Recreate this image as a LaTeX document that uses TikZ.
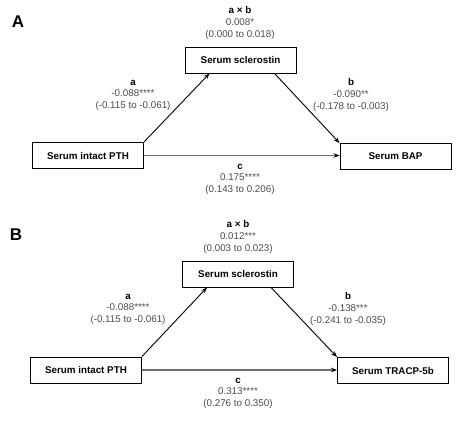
\documentclass[tikz,border=0pt]{standalone}
\usepackage{fontspec}
\setmainfont{Liberation Sans}
\usetikzlibrary{arrows.meta}
\definecolor{numgray}{HTML}{4A4A4A}
\definecolor{cgray}{HTML}{707070}
\tikzset{
  varbox/.style={draw=black, line width=0.9pt, minimum width=111pt, minimum height=26pt, inner sep=0pt,
    font=\fontsize{9.8}{11.5}\selectfont\bfseries, fill=white},
  coef/.style={align=center, font=\fontsize{9.8}{11.6}\selectfont, text=numgray, inner sep=0pt},
  panel/.style={font=\fontsize{17}{17}\selectfont\bfseries, inner sep=0pt},
  patharrow/.style={draw=black, line width=0.9pt, -{Stealth[length=6pt,width=4.5pt]}},
  directarrow/.style={draw=cgray, line width=1.8pt, -{Stealth[length=6pt,width=4.5pt,color=black]}},
}
\begin{document}
\begin{tikzpicture}[x=1pt,y=-1pt]
\useasboundingbox (0,0) rectangle (469,421);
% Panel A
\node[panel] (labA) at (18,22) {A};
\node[varbox] (sclA) at (240.5,60) {Serum sclerostin};
\node[varbox] (pthA) at (88,155.5) {Serum intact PTH};
\node[varbox] (bapA) at (395.5,156.5) {Serum BAP};
\node[coef] (abA) at (240,23) {\textcolor{black}{\bfseries a × b}\\0.008*\\(0.000 to 0.018)};
\node[coef] (aA) at (133,95) {\textcolor{black}{\bfseries a}\\-0.088****\\(-0.115 to -0.061)};
\node[coef] (bA) at (351,95) {\textcolor{black}{\bfseries b}\\-0.090**\\(-0.178 to -0.003)};
\node[coef] (cA) at (240,179) {\textcolor{black}{\bfseries c}\\0.175****\\(0.143 to 0.206)};
\draw[patharrow] (pthA.north east) -- ([xshift=-31pt]sclA.south);
\draw[patharrow] ([xshift=34pt]sclA.south) -- (bapA.north west);
\draw[directarrow] (pthA.east) -- (pthA.east -| bapA.west);
% Panel B
\node[panel] (labB) at (16,235) {B};
\node[varbox] (sclB) at (238,274) {Serum sclerostin};
\node[varbox] (pthB) at (86,370) {Serum intact PTH};
\node[varbox] (trB) at (393,370.5) {Serum TRACP-5b};
\node[coef] (abB) at (238,237) {\textcolor{black}{\bfseries a × b}\\0.012***\\(0.003 to 0.023)};
\node[coef] (aB) at (128,309) {\textcolor{black}{\bfseries a}\\-0.088****\\(-0.115 to -0.061)};
\node[coef] (bB) at (348,309) {\textcolor{black}{\bfseries b}\\-0.138***\\(-0.241 to -0.035)};
\node[coef] (cB) at (238,393) {\textcolor{black}{\bfseries c}\\0.313****\\(0.276 to 0.350)};
\draw[patharrow] (pthB.north east) -- ([xshift=-31pt]sclB.south);
\draw[patharrow] ([xshift=33pt]sclB.south) -- (trB.north west);
\draw[directarrow] (pthB.east) -- (pthB.east -| trB.west);
\end{tikzpicture}
\end{document}
